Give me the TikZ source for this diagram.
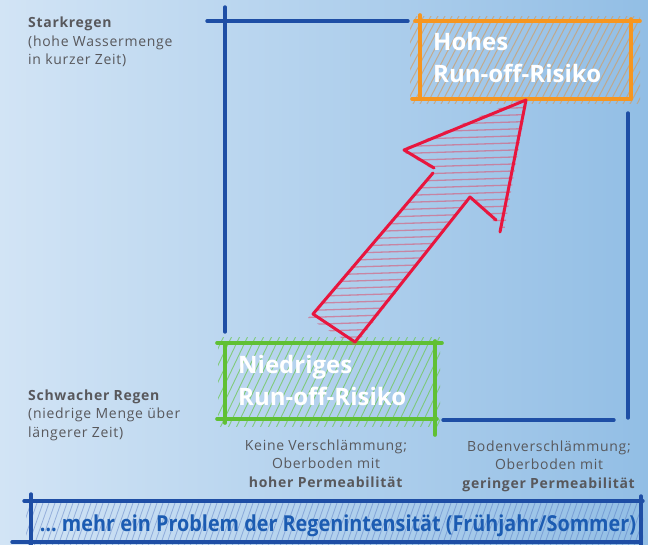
\documentclass[tikz,border=0pt]{standalone}
\usepackage{fontspec}
\setmainfont{Open Sans}
\usetikzlibrary{calc}
\definecolor{bgl}{RGB}{210,228,245}
\definecolor{bgr}{RGB}{146,190,229}
\definecolor{frameblue}{RGB}{30,78,165}
\definecolor{orangeA}{RGB}{246,150,32}
\definecolor{hatchorange}{RGB}{205,160,110}
\definecolor{greenA}{RGB}{96,192,52}
\definecolor{hatchgreen}{RGB}{115,200,95}
\definecolor{redA}{RGB}{232,22,62}
\definecolor{pinkA}{RGB}{215,95,125}
\definecolor{txtgrey}{RGB}{88,88,92}
\definecolor{txtblue}{RGB}{28,92,178}
\definecolor{hatchblue}{RGB}{80,115,190}
\begin{document}
\begin{tikzpicture}[x=1pt,y=-1pt,
  frame/.style={line width=3.4pt, line cap=round, draw=frameblue},
  obox/.style={line width=3.6pt, line cap=round, draw=orangeA},
  gbox/.style={line width=3.6pt, line cap=round, draw=greenA},
  redline/.style={line width=3pt, line cap=round, line join=round, draw=redA},
  hatchO/.style={line width=1pt, draw=hatchorange, opacity=0.75},
  hatchG/.style={line width=0.9pt, draw=hatchgreen, opacity=0.8},
  hatchB/.style={line width=0.8pt, draw=hatchblue, opacity=0.45},
  hatchR/.style={line width=1.3pt, draw=pinkA, opacity=0.65},
  area/.style={draw=none, inner sep=0},
  lbl/.style={font=\fontsize{14}{18.5}\selectfont\addfontfeatures{LetterSpace=5}, text=txtgrey, align=left, inner sep=0},
  capt/.style={font=\fontsize{14}{18.5}\selectfont\addfontfeatures{LetterSpace=5}, text=txtgrey, align=center, inner sep=0},
  head/.style={font=\fontsize{24}{32}\selectfont\bfseries, text=white, align=left, inner sep=0},
  foot/.style={font=\fontsize{22}{24}\selectfont\bfseries, text=txtblue, inner sep=0}
]
% background
\shade[left color=bgl, right color=bgr] (0,0) rectangle (648,545);
\useasboundingbox (0,0) rectangle (648,545);

% box areas
\node[area, minimum width=211pt, minimum height=78pt] (hoch) at (526,60) {};
\node[area, minimum width=210pt, minimum height=76pt] (niedrig) at (330,381) {};
\node[area, minimum width=610pt, minimum height=41pt] (fuss) at (336,521) {};

% blue frame
\draw[frame] (207,21) -- (408,21);
\draw[frame] (225,7) -- (225,332);
\draw[frame] (628,113) -- (628,418);
\draw[frame] (443,420) -- (614,420);

% orange box hatching
\begin{scope}
  \clip (410,17) rectangle (640,104);
  \foreach \i in {0,...,40} \draw[hatchO] ({370+\i*7},106) -- ++(48,-92);
\end{scope}
% orange box outline
\draw[obox] (415,21) -- (640,21);
\draw[obox] (420,15) -- (420,99);
\draw[obox] (631,19) -- (631,99);
\draw[obox] (412,99) -- (631,99);

% green box hatching
\begin{scope}
  \clip (218,338) rectangle (440,426);
  \foreach \i in {0,...,40} \draw[hatchG] ({180+\i*8},428) -- ++(44,-92);
\end{scope}
% green box outline
\draw[gbox] (217,343) -- (442,343);
\draw[gbox] (225,343) -- (225,423);
\draw[gbox] (435,341) -- (435,435);
\draw[gbox] (217,419) -- (437,419);

% red arrow
\coordinate (tip) at (526,100);
\coordinate (base) at (355,342);
\begin{scope}
  \clip (308,318) -- (434,170) -- (400,150) -- (528,96) -- (504,232) -- (470,197) -- (355,346) -- cycle;
  \foreach \yy in {104,111,...,345} \draw[hatchR] (290,\yy+4) -- (545,\yy-4);
\end{scope}
\draw[redline] (434,168) -- (404,150) -- (tip) -- (500,232);
\draw[redline] (496,220) -- (470,197) -- (base) -- (313,314) -- (433,173);

% footer box hatching
\begin{scope}
  \clip (26,498) rectangle (643,545);
  \foreach \i in {0,...,110} \draw[hatchB] ({10+\i*6},546) -- ++(16,-46);
\end{scope}
\draw[frame] (24,501) -- (643,501);
\draw[frame] (31,494) -- (31,545);
\draw[frame] (641,496) -- (641,545);
\draw[frame] (12,542) -- (640,542);

% texts
\node[head, anchor=base west] (hochtxt) at (433,83) {Hohes\\Run-off-Risiko};
\node[head, anchor=base west] (niedrigtxt) at (238,405) {Niedriges\\Run-off-Risiko};
\node[lbl, anchor=base west] (stark) at (28,65) {\textbf{Starkregen}\\(hohe Wassermenge\\in kurzer Zeit)};
\node[lbl, anchor=base west] (schwach) at (28,437) {\textbf{Schwacher Regen}\\(niedrige Menge über\\längerer Zeit)};
\node[capt, anchor=base] (keine) at (326,487) {Keine Verschlämmung;\\Oberboden mit\\\textbf{hoher Permeabilität}};
\node[capt, anchor=base] (boden) at (549,488) {Bodenverschlämmung;\\Oberboden mit\\\textbf{geringer Permeabilität}};
\node[foot, anchor=base] (problem) at (338,531) {\scalebox{0.9}[1]{… mehr ein Problem der Regenintensität (Frühjahr/Sommer)}};
\end{tikzpicture}
\end{document}
